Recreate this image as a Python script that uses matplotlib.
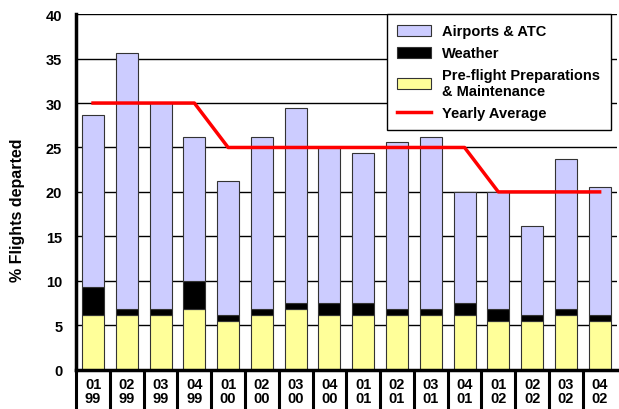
import matplotlib.pyplot as plt
import numpy as np

plt.rcParams['font.family'] = ['Liberation Sans', 'DejaVu Sans']
plt.rcParams['font.weight'] = 'bold'

# quarter / year labels
quarters = ['01', '02', '03', '04'] * 4
years = ['99'] * 4 + ['00'] * 4 + ['01'] * 4 + ['02'] * 4
labels = [q + '\n' + y for q, y in zip(quarters, years)]

# stacked values (% flights departed)
preflight = [6.2, 6.2, 6.2, 6.8, 5.5, 6.2, 6.8, 6.2, 6.2, 6.2, 6.2, 6.2, 5.5, 5.5, 6.2, 5.5]
weather_top = [9.3, 6.8, 6.8, 10.0, 6.2, 6.8, 7.5, 7.5, 7.5, 6.8, 6.8, 7.5, 6.8, 6.2, 6.8, 6.2]
total = [28.7, 35.6, 30.0, 26.2, 21.2, 26.2, 29.4, 25.0, 24.4, 25.6, 26.2, 20.0, 20.0, 16.2, 23.7, 20.6]
yearly_avg = [30, 30, 30, 30, 25, 25, 25, 25, 25, 25, 25, 25, 20, 20, 20, 20]

weather = [w - p for w, p in zip(weather_top, preflight)]
airports = [t - w for t, w in zip(total, weather_top)]

x = np.arange(len(labels))

fig = plt.figure(figsize=(6.19, 4.10), dpi=100)
ax = fig.add_axes([0.123, 0.096, 0.873, 0.867])

# grid behind bars
for yv in range(5, 41, 5):
    ax.axhline(yv, color='black', lw=1, zorder=0)

w = 0.65
ec = '#333333'
ax.bar(x, preflight, w, color='#FFFF99', edgecolor=ec, lw=0.8, zorder=2,
       label='Pre-flight Preparations\n& Maintenance')
ax.bar(x, weather, w, bottom=preflight, color='black', edgecolor=ec, lw=0.8, zorder=2,
       label='Weather')
ax.bar(x, airports, w, bottom=weather_top, color='#CCCCFF', edgecolor=ec, lw=0.8, zorder=2,
       label='Airports & ATC')
ax.plot(x, yearly_avg, color='#FF0000', lw=2.5, zorder=3, label='Yearly Average')

ax.set_xlim(-0.5, len(labels) - 0.5)
ax.set_ylim(0, 40)
ax.set_yticks(range(0, 41, 5))
ax.tick_params(axis='y', length=0, pad=10, labelsize=10.5)
for t in ax.get_yticklabels():
    t.set_fontweight('bold')

ax.set_xticks(x)
ax.set_xticklabels(labels, fontsize=10.5, fontweight='bold', linespacing=1.05)
ax.tick_params(axis='x', which='major', length=0, pad=5)
ax.set_xticks(np.arange(-0.5, len(labels) - 0.5, 1), minor=True)
ax.tick_params(axis='x', which='minor', length=30, width=2.2, direction='out')

ax.spines['right'].set_visible(False)
ax.spines['top'].set_visible(False)
ax.spines['left'].set_linewidth(2.5)
ax.spines['bottom'].set_linewidth(2.5)

ax.set_ylabel('% Flights departed', fontsize=11.5, fontweight='bold')
ax.yaxis.set_label_coords(-0.094, 0.45)

h, l = ax.get_legend_handles_labels()
order = [3, 2, 1, 0]
leg = ax.legend([h[i] for i in order], [l[i] for i in order],
                loc='upper right', bbox_to_anchor=(0.989, 1.0), borderaxespad=0,
                prop={'weight': 'bold', 'size': 10.5},
                frameon=True, fancybox=False, framealpha=1,
                edgecolor='black', handlelength=2.3, handleheight=0.75,
                handletextpad=0.8, borderpad=0.7, labelspacing=0.55)
leg.get_frame().set_linewidth(1)
for t in leg.get_texts():
    t.set_linespacing(1.15)

fig.savefig('out.png', dpi=100)
